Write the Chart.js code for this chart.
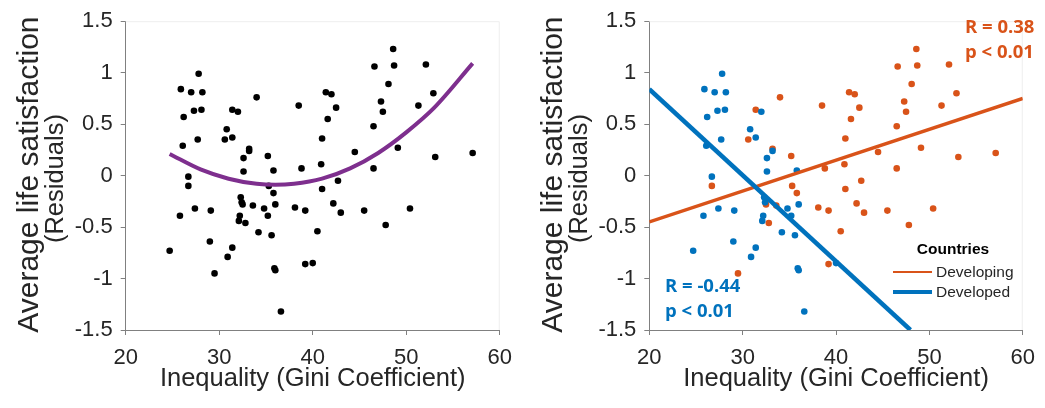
<!DOCTYPE html>
<html>
<head>
<meta charset="utf-8">
<script src="https://cdn.jsdelivr.net/npm/chart.js@4.4.1/dist/chart.umd.min.js"></script>
<style>
  body { margin: 0; background: #fff; width: 1045px; height: 408px; overflow: hidden; position: relative; }
  .panel { position: absolute; top: 0; }
</style>
</head>
<body>
<div class="panel" style="left:0"><canvas id="left" width="522" height="408"></canvas></div>
<div class="panel" style="left:522px"><canvas id="right" width="523" height="408"></canvas></div>
<script>
// developed countries (blue on the right panel)
const developedGini = [27.8, 25.9, 27.0, 28.2, 26.2, 27.3, 28.1, 27.7, 26.1, 26.7, 32.0, 30.8, 31.4, 33.2, 32.6, 32.6, 35.8,
  25.8, 27.4, 29.1, 24.7, 29.0, 32.3, 32.4, 32.2, 32.1, 34.8, 35.2, 36.0, 34.2, 35.6, 31.4, 30.9, 35.9, 36.0, 36.6, 40.0];
const developedLife = [0.99, 0.84, 0.81, 0.81, 0.57, 0.63, 0.64, 0.35, 0.29, -0.01, 0.62, 0.45, 0.37, 0.24, 0.17, 0.04, 0.05,
  -0.39, -0.32, -0.34, -0.73, -0.64, -0.21, -0.26, -0.39, -0.44, -0.32, -0.39, -0.28, -0.55, -0.58, -0.70, -0.79, -0.90, -0.92, -1.32, -0.85];

// developing countries (orange on the right panel)
const developingGini = [26.7, 34.0, 31.4, 30.6, 33.2, 35.2, 38.5, 35.3, 35.8,
  48.6, 46.6, 48.7, 52.1, 48.1, 41.4, 42.0, 52.9, 47.3, 47.5, 51.3, 42.5, 41.6, 46.5, 41.0, 44.5, 49.1, 53.1, 57.1,
  38.8, 40.9, 46.5, 42.7, 41.0,
  29.5, 32.5, 32.8, 33.6, 38.1, 39.2, 42.2, 43.0, 45.5, 50.4, 40.5, 47.8, 39.2];
const developingLife = [-0.10, 0.76, 0.64, 0.35, 0.26, 0.19, 0.68, -0.10, -0.17,
  1.23, 1.06, 1.07, 1.08, 0.89, 0.81, 0.79, 0.80, 0.72, 0.62, 0.68, 0.66, 0.55, 0.48, 0.36, 0.23, 0.27, 0.18, 0.22,
  0.07, 0.11, 0.07, -0.05, -0.13,
  -0.95, -0.28, -0.46, -0.29, -0.31, -0.34, -0.27, -0.36, -0.34, -0.32, -0.54, -0.48, -0.86];

// quadratic fit
const curveGini = [24.7, 28, 31, 34, 36, 38, 41, 44, 47, 50, 53, 57.1];
const curveLife = [0.21, 0.06, -0.03, -0.08, -0.09, -0.08, -0.03, 0.07, 0.22, 0.42, 0.66, 1.09];

// linear fits on the right panel
const developingFitGini = [20, 60];
const developingFitLife = [-0.45, 0.75];
const developedFitGini = [20, 47.97];
const developedFitLife = [0.84, -1.5];

const xTicks = [20, 30, 40, 50, 60];
const yTicks = [-1.5, -1, -0.5, 0, 0.5, 1, 1.5];

const ORANGE = '#D95319';
const BLUE = '#0072BD';
const PURPLE = '#7E2F8E';
const TEXT = '#262626';
const AXIS = '#808080';
const FONT = "'Liberation Sans', Arial, sans-serif";

const pts = (xs, ys) => xs.map((x, i) => ({ x: x, y: ys[i] }));

function scales(yWidth) {
  return {
    x: {
      type: 'linear', min: 20, max: 60,
      afterBuildTicks: s => { s.ticks = xTicks.map(v => ({ value: v })); },
      afterFit: s => { s.height = 78; },
      grid: { drawOnChartArea: false, drawTicks: true, tickLength: 5, color: AXIS },
      border: { color: AXIS },
      ticks: { color: TEXT, font: { family: FONT, size: 22 }, padding: 10, maxRotation: 0, autoSkip: false,
        callback: v => String(v) },
      title: { display: true, text: 'Inequality (Gini Coefficient)', color: TEXT,
        font: { family: FONT, size: 25.5, lineHeight: 1.05 }, padding: { top: 0, bottom: 16 } }
    },
    y: {
      type: 'linear', min: -1.5, max: 1.5,
      afterBuildTicks: s => { s.ticks = yTicks.map(v => ({ value: v })); },
      afterFit: s => { s.width = yWidth; },
      grid: { drawOnChartArea: false, drawTicks: true, tickLength: 5, color: AXIS },
      border: { color: AXIS },
      ticks: { color: TEXT, font: { family: FONT, size: 22 }, padding: 8, autoSkip: false,
        callback: v => String(v) }
    }
  };
}

// faint box on top and right of the plot area
const frame = {
  id: 'frame',
  beforeDatasetsDraw(chart) {
    const { ctx, chartArea: a } = chart;
    ctx.save();
    ctx.strokeStyle = '#eeeeee';
    ctx.lineWidth = 1;
    ctx.beginPath();
    ctx.moveTo(a.left, a.top + 0.5);
    ctx.lineTo(a.right - 0.5, a.top + 0.5);
    ctx.lineTo(a.right - 0.5, a.bottom);
    ctx.stroke();
    ctx.restore();
  }
};

// two-line y axis title, first line drawn larger as in the figure
const yTitle = {
  id: 'yTitle',
  afterDraw(chart) {
    const { ctx, chartArea: a } = chart;
    const cy = (a.top + a.bottom) / 2;
    const x0 = a.left - 125.7;
    ctx.save();
    ctx.fillStyle = TEXT;
    ctx.textAlign = 'center';
    ctx.textBaseline = 'middle';
    ctx.translate(x0 + 30, cy - 1);
    ctx.rotate(-Math.PI / 2);
    ctx.font = '30px ' + FONT;
    ctx.fillText('Average life satisfaction', 0, 0);
    ctx.restore();
    ctx.save();
    ctx.fillStyle = TEXT;
    ctx.textAlign = 'center';
    ctx.textBaseline = 'middle';
    ctx.translate(x0 + 56, cy + 3);
    ctx.rotate(-Math.PI / 2);
    ctx.font = '25.5px ' + FONT;
    ctx.fillText('(Residuals)', 0, 0);
    ctx.restore();
  }
};

// correlation labels and legend of the right panel
const notes = {
  id: 'notes',
  afterDraw(chart) {
    const ctx = chart.ctx;
    ctx.save();
    ctx.textBaseline = 'middle';
    ctx.textAlign = 'left';
    ctx.font = "bold 18.5px 'Open Sans', sans-serif";
    ctx.fillStyle = ORANGE;
    ctx.fillText('R = 0.38', 443, 28);
    ctx.fillText('p < 0.01', 443, 53);
    ctx.fillStyle = BLUE;
    ctx.fillText('R = -0.44', 143, 287);
    ctx.fillText('p < 0.01', 143, 312);

    ctx.fillStyle = '#000';
    ctx.textAlign = 'center';
    ctx.font = 'bold 15.5px ' + FONT;
    ctx.fillText('Countries', 431, 250);
    ctx.textAlign = 'left';
    ctx.font = '15.5px ' + FONT;
    ctx.fillStyle = TEXT;
    ctx.fillText('Developing', 414, 273);
    ctx.fillText('Developed', 414, 293);
    ctx.lineWidth = 2;
    ctx.strokeStyle = ORANGE;
    ctx.beginPath(); ctx.moveTo(371, 272); ctx.lineTo(410, 272); ctx.stroke();
    ctx.lineWidth = 4;
    ctx.strokeStyle = BLUE;
    ctx.beginPath(); ctx.moveTo(371, 292); ctx.lineTo(410, 292); ctx.stroke();
    ctx.restore();
  }
};

new Chart(document.getElementById('left'), {
  type: 'scatter',
  data: {
    datasets: [
      { data: pts(curveGini, curveLife), showLine: true, borderColor: PURPLE, borderWidth: 4,
        pointRadius: 0, cubicInterpolationMode: 'monotone', fill: false },
      { data: pts(developedGini.concat(developingGini), developedLife.concat(developingLife)),
        backgroundColor: '#000', borderColor: '#000', pointRadius: 3.3, borderWidth: 0 }
    ]
  },
  options: {
    responsive: false, animation: false,
    layout: { padding: { top: 19, right: 16.3, left: 0, bottom: 0 } },
    plugins: { legend: { display: false }, tooltip: { enabled: false } },
    scales: scales(125.7)
  },
  plugins: [frame, yTitle]
});

new Chart(document.getElementById('right'), {
  type: 'scatter',
  data: {
    datasets: [
      { data: pts(developedFitGini, developedFitLife), showLine: true, borderColor: BLUE, borderWidth: 4.5, pointRadius: 0 },
      { data: pts(developingFitGini, developingFitLife), showLine: true, borderColor: ORANGE, borderWidth: 3.5, pointRadius: 0 },
      { data: pts(developedGini, developedLife), backgroundColor: BLUE, pointRadius: 3.3, borderWidth: 0 },
      { data: pts(developingGini, developingLife), backgroundColor: ORANGE, pointRadius: 3.3, borderWidth: 0 }
    ]
  },
  options: {
    responsive: false, animation: false,
    layout: { padding: { top: 19, right: 15.7, left: 0, bottom: 0 } },
    plugins: { legend: { display: false }, tooltip: { enabled: false } },
    scales: scales(127.3)
  },
  plugins: [frame, yTitle, notes]
});
</script>
</body>
</html>
